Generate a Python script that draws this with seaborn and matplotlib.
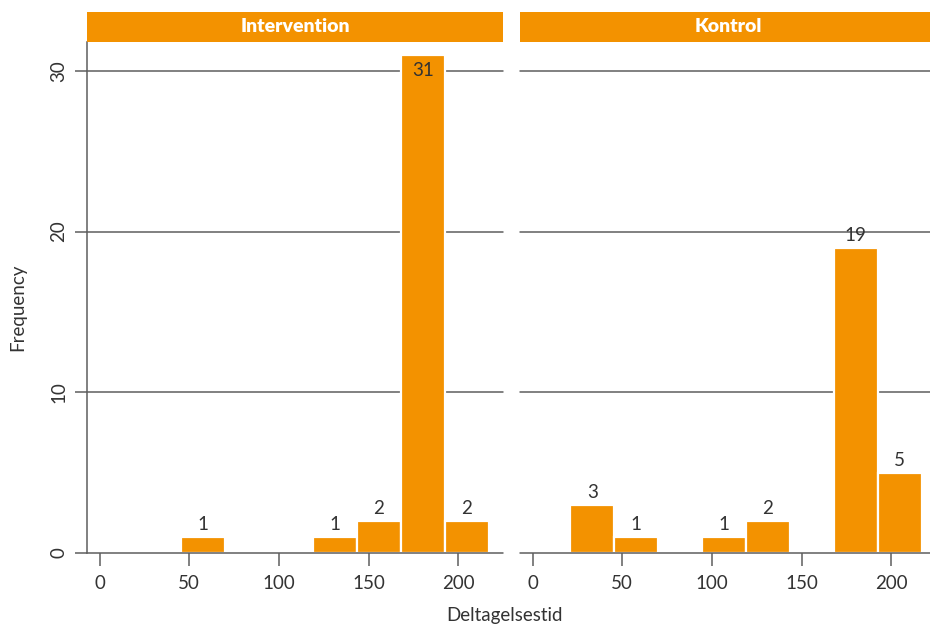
import matplotlib
matplotlib.use("Agg")
import matplotlib.pyplot as plt
import seaborn as sns
import numpy as np
import pandas as pd
from matplotlib.patches import Rectangle

# ---- data ----
bin_edges = [-3.5, 21.0, 45.5, 70.0, 94.5, 119.0, 143.5, 168.0, 192.5, 217.0]
intervention_counts = [0, 0, 1, 0, 0, 1, 2, 31, 2]
kontrol_counts = [0, 3, 1, 0, 1, 2, 0, 19, 5]
groups = ["Intervention", "Kontrol"]
x_ticks = [0, 50, 100, 150, 200]
y_ticks = [0, 10, 20, 30]
x_label = "Deltagelsestid"
y_label = "Frequency"

centers = [(a + b) / 2 for a, b in zip(bin_edges[:-1], bin_edges[1:])]
df = pd.DataFrame({
    "group": np.repeat(groups, len(centers)),
    "center": centers * 2,
    "count": intervention_counts + kontrol_counts,
})

sns.set_theme(style="white")
plt.rcParams["font.family"] = ["Lato", "DejaVu Sans"]

ORANGE = "#F39200"
GRID = "#5e5e5e"
TXT = "#333333"

W, H = 930, 626
fig = plt.figure(figsize=(W / 100, H / 100), dpi=100)

panel_w = 416
top_px, bot_px = 42, 553
lefts = [87, 520]
axes = []
for i, g in enumerate(groups):
    ax = fig.add_axes([lefts[i] / W, 1 - bot_px / H, panel_w / W, (bot_px - top_px) / H])
    axes.append(ax)
    sub = df[df["group"] == g]
    for yv in y_ticks:
        ax.axhline(yv, color=GRID, lw=1.1, zorder=4 if yv == 0 else 1, clip_on=False)
    sns.histplot(data=sub, x="center", weights="count", bins=bin_edges, ax=ax,
                 color=ORANGE, alpha=1, edgecolor="white", linewidth=1.6, zorder=2)
    ax.set_xlim(-7, 225)
    ax.set_ylim(0, 31.8)
    for c, n in zip(sub["center"], sub["count"]):
        if n > 0:
            yy = n + 0.75 if n < 30 else n - 1.0
            ax.text(c, yy, str(n), ha="center", va="center", fontsize=13.5, color=TXT, zorder=3)
    for s in ["top", "right", "bottom"]:
        ax.spines[s].set_visible(False)
    ax.set_xticks(x_ticks)
    ax.set_xticklabels([str(t) for t in x_ticks])
    ax.tick_params(axis="x", bottom=True, length=9, width=1.1, color=GRID, pad=7,
                   labelsize=13.5, labelcolor=TXT)
    if i == 0:
        ax.spines["left"].set_visible(True)
        ax.spines["left"].set_color(GRID)
        ax.spines["left"].set_linewidth(1.1)
        ax.set_yticks(y_ticks)
        ax.set_yticklabels([str(t) for t in y_ticks], rotation=90, va="center")
        ax.tick_params(axis="y", left=True, length=9, width=1.1, color=GRID, pad=5,
                       labelsize=13.5, labelcolor=TXT)
    else:
        ax.spines["left"].set_visible(False)
        ax.set_yticks(y_ticks)
        ax.set_yticklabels([])
        ax.tick_params(axis="y", left=False)
    ax.set_xlabel("")
    ax.set_ylabel("")
    # strip
    ax.add_patch(Rectangle((0, 1.0), 1, 30 / (bot_px - top_px), transform=ax.transAxes,
                           facecolor=ORANGE, edgecolor="none", clip_on=False, zorder=5))
    ax.text(0.5, 1.0 + 15 / (bot_px - top_px), g, transform=ax.transAxes, ha="center",
            va="center", fontsize=14, fontweight="heavy", color="white", zorder=6)

fig.text(504 / W, 1 - 615 / H, x_label, ha="center", va="center", fontsize=13.5, color=TXT)
fig.text(18 / W, 1 - 307 / H, y_label, ha="center", va="center", rotation=90,
         fontsize=13.5, color=TXT)

fig.savefig("out.png", dpi=100)
